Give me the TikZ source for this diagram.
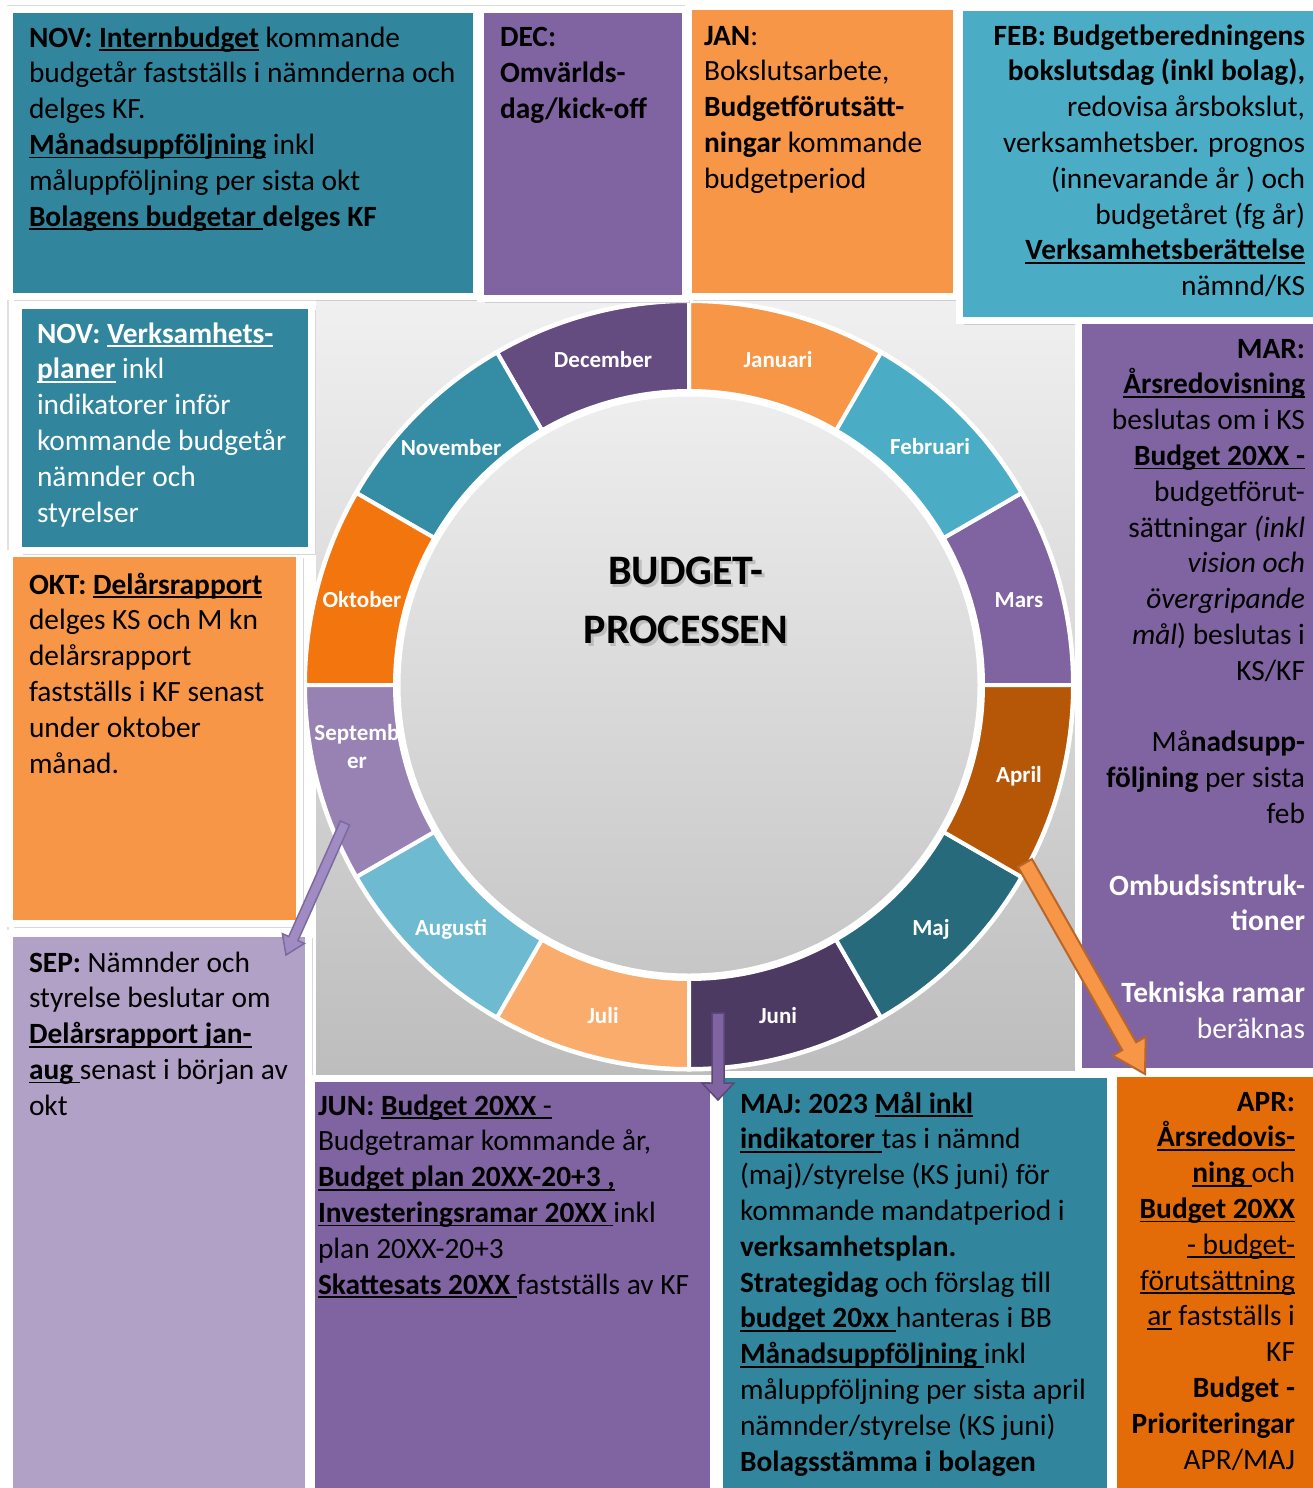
\documentclass[tikz,border=0pt]{standalone}
\usepackage{fontspec}
\setmainfont{Carlito}
\usetikzlibrary{calc,shadows}
\definecolor{cTeal}{HTML}{31859C}
\definecolor{cPurple}{HTML}{8064A2}
\definecolor{cOrange}{HTML}{F79646}
\definecolor{cBlue}{HTML}{4BACC6}
\definecolor{cLav}{HTML}{B2A1C7}
\definecolor{cDkOr}{HTML}{E36C09}
\definecolor{mDec}{HTML}{644C81}
\definecolor{mJan}{HTML}{F79646}
\definecolor{mFeb}{HTML}{4BACC6}
\definecolor{mMar}{HTML}{8064A2}
\definecolor{mApr}{HTML}{B65708}
\definecolor{mMaj}{HTML}{276A7C}
\definecolor{mJun}{HTML}{4C3A63}
\definecolor{mJul}{HTML}{F9AC6B}
\definecolor{mAug}{HTML}{6EBAD0}
\definecolor{mSep}{HTML}{9882B4}
\definecolor{mOkt}{HTML}{F2750D}
\definecolor{mNov}{HTML}{358CA5}
\definecolor{sqTop}{HTML}{F0F0F0}
\definecolor{sqBot}{HTML}{BDBDBD}
\definecolor{ciTop}{HTML}{EEEEEE}
\definecolor{ciBot}{HTML}{C6C6C6}
\definecolor{arLav}{HTML}{A08CC3}
\definecolor{arLavD}{HTML}{7C6A9E}
\definecolor{arPur}{HTML}{8064A2}
\definecolor{arPurD}{HTML}{5C4878}
\definecolor{arOr}{HTML}{F79646}
\definecolor{arOrD}{HTML}{B8662A}
\newcommand\ulx[1]{\setbox0=\hbox{#1}\rlap{\rule[-4pt]{\wd0}{1.8pt}}\box0\relax}
\newcommand\firstln{\rule{0pt}{26pt}}
\newcommand\panelbox[6]{\node[panel, fill=#6, minimum width={#4-#2+7}, minimum height={#5-#3+7}] (#1) at ({#2-3.5},{-(#3-3.5)}) {};}
\newcommand\seg[3]{\fill[fill=#3, draw=white, line width=4pt] ($(C)+(#1:384)$) arc[start angle=#1, end angle=#2, radius=384] -- ($(C)+(#2:294)$) arc[start angle=#2, end angle=#1, radius=294] -- cycle;}
\newcommand\blockarr[6]{\path[#1] let \p1=(#2), \p2=(#3), \n1={atan2(\y2-\y1,\x2-\x1)}, \n2={veclen(\x2-\x1,\y2-\y1)} in
 ($(\p1)+({\n1+90}:#4)$) -- ($(\p1)+({\n1}:{\n2-#6})+({\n1+90}:#4)$) -- ($(\p1)+({\n1}:{\n2-#6})+({\n1+90}:#5)$) -- (\p2) -- ($(\p1)+({\n1}:{\n2-#6})+({\n1-90}:#5)$) -- ($(\p1)+({\n1}:{\n2-#6})+({\n1-90}:#4)$) -- ($(\p1)+({\n1-90}:#4)$) -- cycle;}
\begin{document}
\begin{tikzpicture}[x=1pt,y=1pt,
  panel/.style={draw=white, line width=7pt, inner sep=0pt, outer sep=0pt, anchor=north west,
    drop shadow={shadow xshift=4pt, shadow yshift=-4pt, opacity=.3, fill=black!50}},
  txt/.style={inner sep=0pt, outer sep=0pt, font=\fontsize{29.4}{35.8}\selectfont, text=black},
  txtl/.style={txt, align=left, anchor=north west},
  txtr/.style={txt, align=right, anchor=north east},
  mon/.style={inner sep=0pt, anchor=base, text=white, font=\fontsize{23}{28}\selectfont\bfseries},
  ttl/.style={inner sep=0pt, anchor=base, font=\fontsize{42}{50}\selectfont\bfseries}]
\useasboundingbox (0,0) rectangle (1313,-1488);
\fill[white] (0,0) rectangle (1313,-1488);
\draw[black!15, line width=1.2pt] (8,-5.5) -- (1313,-5.5);
\draw[black!12, line width=1.2pt] (8,-5.5) -- (8,-1488);
% central square
\shade[top color=sqTop, bottom color=sqBot] (316,-300) rectangle (1076,-1077);
\coordinate (C) at (689,-685);
\seg{0}{30}{mMar}
\seg{30}{60}{mFeb}
\seg{60}{90}{mJan}
\seg{90}{120}{mDec}
\seg{120}{150}{mNov}
\seg{150}{180}{mOkt}
\seg{180}{210}{mSep}
\seg{210}{240}{mAug}
\seg{240}{270}{mJul}
\seg{270}{300}{mJun}
\seg{300}{330}{mMaj}
\seg{330}{360}{mApr}
\draw[white, line width=3pt] (C) circle[radius=385];
\shadedraw[top color=ciTop, bottom color=ciBot, draw=white, line width=5pt] (C) circle[radius=291];
% month labels
\node[mon] (l-dec) at (603,-367) {December};
\node[mon] (l-jan) at (778,-367) {Januari};
\node[mon] (l-feb) at (930,-454) {Februari};
\node[mon] (l-mar) at (1019,-607) {Mars};
\node[mon] (l-apr) at (1019,-782) {April};
\node[mon] (l-maj) at (931,-935) {Maj};
\node[mon] (l-jun) at (778,-1023) {Juni};
\node[mon] (l-jul) at (603,-1023) {Juli};
\node[mon] (l-aug) at (451,-935) {Augusti};
\node[mon, anchor=center, align=center] (l-sep) at (357,-747) {Septemb\\er};
\node[mon] (l-okt) at (362,-607) {Oktober};
\node[mon] (l-nov) at (451,-455) {November};
% title
\node[ttl, text=black!35, opacity=.6] (t1s) at (688.5,-587) {BUDGET-};
\node[ttl, text=black!35, opacity=.6] (t2s) at (688.5,-646) {PROCESSEN};
\node[ttl] (t1) at (686,-584.5) {BUDGET-};
\node[ttl] (t2) at (686,-643.5) {PROCESSEN};
% panels
\panelbox{p-nov1}{13}{13}{473}{293}{cTeal}
\panelbox{p-dec}{484}{13}{682}{295}{cPurple}
\panelbox{p-jan}{692}{10}{953}{293}{cOrange}
\panelbox{p-feb}{963}{11}{1313}{317}{cBlue}
\panelbox{p-mar}{1082}{324}{1313}{1068}{cPurple}
\panelbox{p-okt}{13}{557}{296}{920}{cOrange}
\panelbox{p-nov2}{22}{309}{308}{547}{cTeal}
\panelbox{p-sep}{13}{937}{305}{1488}{cLav}
\panelbox{p-jun}{315}{1082}{710}{1488}{cPurple}
\panelbox{p-maj}{723}{1078}{1107}{1488}{cTeal}
\panelbox{p-apr}{1117}{1077}{1313}{1488}{cDkOr}
% texts
\node[txtl] (x-nov1) at (29,-21) {\firstln\textbf{NOV: }\ulx{\textbf{Internbudget}} kommande\\
budgetår fastställs i nämnderna och\\
delges KF.\\
\ulx{\textbf{Månadsuppföljning}} inkl\\
måluppföljning per sista okt\\
\ulx{\textbf{Bolagens budgetar }}\textbf{delges KF}};
\node[txtl] (x-dec) at (500,-21) {\firstln\textbf{DEC:}\\ \textbf{Omvärlds-}\\ \textbf{dag/kick-off}};
\node[txtl] (x-jan) at (704,-19) {\firstln\textbf{JAN}:\\ Bokslutsarbete,\\ \textbf{Budgetförutsätt-}\\ \textbf{ningar} kommande\\ budgetperiod};
\node[txtr] (x-feb) at (1305,-19) {\firstln\textbf{FEB: Budgetberedningens}\\
\textbf{bokslutsdag (inkl bolag),}\\
redovisa årsbokslut,\\
verksamhetsber. prognos\\
(innevarande år ) och\\
budgetåret (fg år)\\
\ulx{\textbf{Verksamhetsberättelse}}\\
nämnd/KS};
\node[txtr] (x-mar) at (1305,-332) {\firstln\textbf{MAR:}\\
\ulx{\textbf{Årsredovisning}}\\
beslutas om i KS\\
\ulx{\textbf{Budget 20XX -}}\\
budgetförut-\\
sättningar \textit{(inkl}\\
\textit{vision och}\\
\textit{övergripande}\\
\textit{mål}) beslutas i\\
KS/KF\\[35.8pt]
Må\textbf{nadsupp-}\\
\textbf{följning} per sista\\
feb\\[35.8pt]
{\color{white}\textbf{Ombudsisntruk-}}\\
{\color{white}\textbf{tioner}}\\[35.8pt]
{\color{white}\textbf{Tekniska ramar}}\\
{\color{white}beräknas}};
\node[txtl, text=white] (x-nov2) at (37,-317) {\firstln\textbf{NOV: }\ulx{\textbf{Verksamhets-}}\\
\ulx{\textbf{planer}} inkl\\
indikatorer inför\\
kommande budgetår\\
nämnder och\\
styrelser};
\node[txtl] (x-okt) at (29,-568) {\firstln\textbf{OKT: }\ulx{\textbf{Delårsrapport}}\\
delges KS och M kn\\
delårsrapport\\
fastställs i KF senast\\
under oktober\\
månad.};
\node[txtl] (x-sep) at (29,-946) {\firstln\textbf{SEP:} Nämnder och\\
styrelse beslutar om\\
\ulx{\textbf{Delårsrapport jan-}}\\
\ulx{\textbf{aug }}senast i början av\\
okt};
\node[txtl] (x-jun) at (318,-1089) {\firstln\textbf{JUN: }\ulx{\textbf{Budget 20XX} -}\\
Budgetramar kommande år,\\
\ulx{\textbf{Budget plan 20XX-20+3 ,}}\\
\ulx{\textbf{Investeringsramar 20XX }}inkl\\
plan 20XX-20+3\\
\ulx{\textbf{Skattesats 20XX }}fastställs av KF};
\node[txtl] (x-maj) at (740,-1087) {\firstln\textbf{MAJ: 2023 }\ulx{\textbf{Mål inkl}}\\
\ulx{\textbf{indikatorer }}tas i nämnd\\
(maj)/styrelse (KS juni) för\\
kommande mandatperiod i\\
\textbf{verksamhetsplan.}\\
\textbf{Strategidag} och förslag till\\
\ulx{\textbf{budget 20xx }}hanteras i BB\\
\ulx{\textbf{Månadsuppföljning }}inkl\\
måluppföljning per sista april\\
nämnder/styrelse (KS juni)\\
\textbf{Bolagsstämma i bolagen}};
\node[txtr] (x-apr) at (1295,-1085) {\firstln\textbf{APR:}\\
\ulx{\textbf{Årsredovis-}}\\
\ulx{\textbf{ning }}och\\
\ulx{\textbf{Budget 20XX}}\\
\ulx{- budget-}\\
\ulx{förutsättning}\\
\ulx{ar} fastställs i\\
KF\\
\textbf{Budget -}\\
\textbf{Prioriteringar}\\
APR/MAJ};
% arrows
\coordinate (a1s) at (345,-823);
\coordinate (a1e) at (286,-955);
\coordinate (a2s) at (718,-1013);
\coordinate (a2e) at (718,-1100);
\coordinate (a3s) at (1025,-863);
\coordinate (a3e) at (1145,-1074);
\blockarr{fill=arLav, draw=arLavD, line width=1.5pt, line join=miter}{a1s}{a1e}{5}{12}{18}
\blockarr{fill=arPur, draw=arPurD, line width=1.5pt, line join=miter}{a2s}{a2e}{6}{16}{17}
\blockarr{fill=arOr, draw=arOrD, line width=2pt, line join=miter}{a3s}{a3e}{8}{19}{32}
\end{tikzpicture}
\end{document}
